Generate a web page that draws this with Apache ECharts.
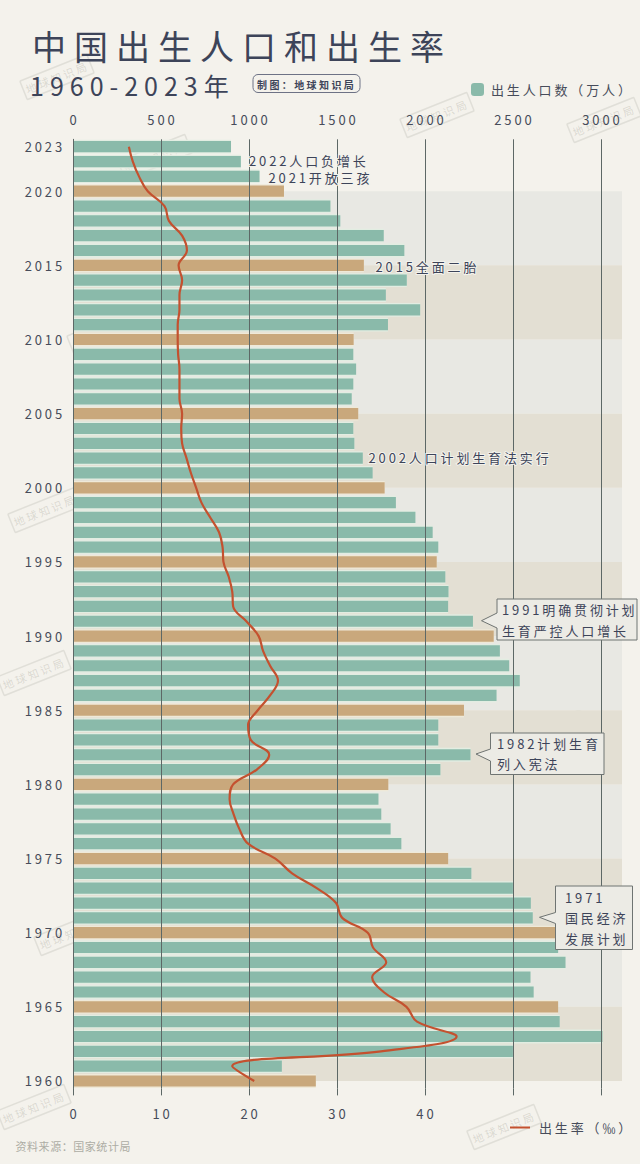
<!DOCTYPE html>
<html><head><meta charset="utf-8">
<style>
html,body{margin:0;padding:0;background:#f4f2ec;}
#c{width:640px;height:1164px;}
#c text{letter-spacing:.22em;}
</style>
<script src="https://cdn.jsdelivr.net/npm/echarts@6/dist/echarts.min.js"></script>
</head><body><div id="c"></div>
<script>
const years=[1960,1961,1962,1963,1964,1965,1966,1967,1968,1969,1970,1971,1972,1973,1974,1975,1976,1977,1978,1979,1980,1981,1982,1983,1984,1985,1986,1987,1988,1989,1990,1991,1992,1993,1994,1995,1996,1997,1998,1999,2000,2001,2002,2003,2004,2005,2006,2007,2008,2009,2010,2011,2012,2013,2014,2015,2016,2017,2018,2019,2020,2021,2022,2023];
const births=[1380,1187,2500,3009,2766,2757,2618,2600,2799,2757,2785,2613,2602,2500,2264,2132,1866,1805,1752,1736,1792,2088,2259,2076,2076,2222,2407,2539,2479,2426,2391,2273,2132,2134,2116,2067,2076,2044,1946,1835,1771,1703,1647,1599,1593,1621,1584,1593,1609,1593,1595,1790,1973,1778,1897,1653,1883,1766,1519,1463,1199,1060,954,898];
const rates=[20.6,18.1,35,43.6,39.1,37.9,35.3,34,35.6,34.1,33.5,30.6,29.9,27.7,24.9,23.0,19.9,18.9,18.25,17.8,18.2,20.9,22.3,20.2,19.9,21.0,22.4,23.3,22.4,21.6,21.1,19.7,18.2,18.1,17.7,17.1,17.0,16.6,15.6,14.6,14.0,13.4,12.9,12.4,12.3,12.4,12.1,12.1,12.1,11.95,11.9,11.9,12.1,12.1,12.4,12.0,12.95,12.4,10.9,10.4,8.5,7.5,6.8,6.35];
const greyBands=[[2020,2015],[2010,2005],[2000,1995],[1990,1985],[1980,1975],[1970,1965]];
const tanBands=[[2015,2010],[2005,2000],[1995,1990],[1985,1980],[1975,1970],[1965,1960]];
const countTicks=[0,500,1000,1500,2000,2500,3000];
const rateLabels=[0,10,20,30,40];
const rateTicks=[0,10,20,30,40,50,60];

const INK='#3d4459', LABEL='#474c5a', FONT='"Noto Sans CJK SC","Noto Sans",sans-serif';
const TEAL='#8abaaa', ORANGE='#c9a87c', RED='#c4512f', RULE='#5d6866';

function txt(s,x,y,font,extra){return {type:'text',z:20,silent:true,style:Object.assign({text:s,x:x,y:y,fill:LABEL,font:font+' '+FONT,textVerticalAlign:'middle',textAlign:'left'},extra||{})};}
const halo={stroke:'#f3f2ec',lineWidth:2};
function callout(pts){return {type:'polygon',z:18,silent:true,shape:{points:pts},style:{fill:'#ecebe5',stroke:'#6f7472',lineWidth:1}};}
function stamp(x,y){return {type:'group',x:x,y:y,rotation:0.38,z:30,silent:true,children:[
  {type:'rect',shape:{x:-36,y:-10,width:72,height:20,r:1},style:{fill:'rgba(0,0,0,0)',stroke:'rgba(125,125,110,.16)',lineWidth:1.5}},
  {type:'text',style:{text:'地球知识局',x:0,y:0,textAlign:'center',textVerticalAlign:'middle',fill:'rgba(110,110,95,.2)',font:'11px '+FONT}}
]};}
const stamps=[[57,77],[437,115],[604,120],[155,157],[384,227],[580,290],[104,332],[318,423],[45,510],[537,522],[228,590],[34,673],[406,722],[122,760],[569,725],[351,827],[551,890],[71,933],[290,1022],[34,1107],[504,1127]];

const graphics=[
 txt('中国出生人口和出生率',32,45.5,'34px',{fill:INK}),
 txt('1960-2023年',30,84.5,'25px',{fill:INK}),
 {type:'rect',z:20,silent:true,shape:{x:253,y:74.5,width:107,height:18,r:5},style:{fill:'none',stroke:'#6d7285',lineWidth:1}},
 txt('制图：地球知识局',257,84,'bold 10px',{fill:INK}),
 txt('2022人口负增长',249,160,'13px',Object.assign({fill:INK},halo)),
 txt('2021开放三孩',268.5,177,'13px',Object.assign({fill:INK},halo)),
 txt('2015全面二胎',375.5,266,'13px',Object.assign({fill:INK},halo)),
 txt('2002人口计划生育法实行',368.5,457.5,'13px',Object.assign({fill:INK},halo)),
 callout([[497,599],[637,599],[637,640],[497,640],[497,628],[481.5,620.7],[497,613]]),
 txt('1991明确贯彻计划',502,609.5,'13px',{fill:INK}),
 txt('生育严控人口增长',502,630.5,'13px',{fill:INK}),
 callout([[490.5,733],[604,733],[604,774.5],[490.5,774.5],[490.5,761],[476,754],[490.5,749]]),
 txt('1982计划生育',497,743,'13px',{fill:INK}),
 txt('列入宪法',497,763.5,'13px',{fill:INK}),
 callout([[555.5,886],[632.5,886],[632.5,949.5],[555.5,949.5],[555.5,923.5],[539.5,917.3],[555.5,912.5]]),
 txt('1971',565,897,'13px',{fill:INK}),
 txt('国民经济',565,917.5,'13px',{fill:INK}),
 txt('发展计划',565,938,'13px',{fill:INK}),
 txt('资料来源：国家统计局',15.5,1146,'11px',{fill:'#adada4'})
].concat(stamps.map(p=>stamp(p[0],p[1])));

const bandData=greyBands.map(b=>({value:b,itemStyle:{color:'#e8e8e3'}})).concat(tanBands.map(b=>({value:b,itemStyle:{color:'#e3dfd3'}})));

const chart=echarts.init(document.getElementById('c'),null,{renderer:'svg',width:640,height:1164});
chart.setOption({
 animation:false,
 backgroundColor:'#f4f2ec',
 textStyle:{fontFamily:FONT},
 grid:{left:73,right:18,top:139.3,height:949.1,containLabel:false},
 legend:[
  {data:['出生人口数（万人）'],left:471,top:83,itemWidth:13,itemHeight:13,itemGap:0,padding:0,itemStyle:{borderWidth:0},textStyle:{fontSize:13,color:LABEL,padding:[0,0,0,2],fontFamily:FONT}},
  {data:[{name:'出生率（‰）',icon:'rect'}],left:510,top:1121,itemWidth:20,itemHeight:2,padding:0,itemStyle:{color:RED},textStyle:{fontSize:13,color:LABEL,padding:[0,0,0,4],fontFamily:FONT}}
 ],
 xAxis:[
  {type:'value',position:'top',min:0,max:3120,interval:500,z:3,
   axisLine:{show:false},axisTick:{show:false},
   axisLabel:{customValues:countTicks,formatter:v=>String(v),color:LABEL,fontSize:13,margin:13,fontFamily:FONT,padding:[0,0,0,3]},
   splitLine:{show:true,showMaxLine:false,lineStyle:{color:RULE,width:1}}},
  {type:'value',position:'bottom',min:0,max:62.4,interval:10,z:3,
   axisLine:{show:false},
   axisTick:{show:true,length:7,customValues:rateTicks,lineStyle:{color:RULE,width:1}},
   axisLabel:{customValues:rateLabels,formatter:v=>String(v),color:LABEL,fontSize:13,margin:19,fontFamily:FONT,padding:[0,0,0,3]},
   splitLine:{show:false}}
 ],
 yAxis:[
  {type:'category',data:years.map(String),z:3,
   axisLine:{show:true,lineStyle:{color:RULE,width:1}},axisTick:{show:false},
   axisLabel:{color:LABEL,fontSize:13,margin:8,fontFamily:FONT,
     interval:(i,v)=>{const y=+v;return y===2023||y%5===0;}}},
  {type:'value',min:1959.5,max:2023.5,show:false,splitLine:{show:false}},
  {type:'category',data:years.map(String),show:false}
 ],
 series:[
  {type:'custom',xAxisIndex:0,yAxisIndex:1,z:1,silent:true,clip:false,
   encode:{y:[0,1]},
   renderItem:(params,api)=>{
     const a=api.coord([0,api.value(0)]), b=api.coord([0,api.value(1)]);
     return {type:'rect',shape:{x:params.coordSys.x,y:a[1],width:params.coordSys.width,height:b[1]-a[1]},style:{fill:api.visual('color')}};
   },
   data:bandData},
  {type:'bar',xAxisIndex:0,yAxisIndex:2,barWidth:13.8,z:1.5,silent:true,
   itemStyle:{color:'#e2ede2'},
   data:births.map((v,i)=>years[i]%5===0?{value:v,itemStyle:{color:'#efe9d8'}}:v)},
  {name:'出生人口数（万人）',type:'bar',xAxisIndex:0,yAxisIndex:0,barWidth:11.2,z:2,
   itemStyle:{color:TEAL},
   data:births.map((v,i)=>years[i]%5===0?{value:v,itemStyle:{color:ORANGE}}:v)},
  {name:'出生率（‰）',type:'line',xAxisIndex:1,yAxisIndex:0,z:4,smooth:0.4,symbol:'none',
   lineStyle:{color:RED,width:2.2},itemStyle:{color:RED},data:rates}
 ],
 graphic:graphics
});
const spacing={'中国出生人口和出生率':'.235em','1960-2023年':'.24em','资料来源：国家统计局':'.05em','制图：地球知识局':'.24em'};
function fix(){document.querySelectorAll('#c text').forEach(t=>{const k=(t.textContent||'').trim();if(spacing[k])t.style.letterSpacing=spacing[k];});}
fix();chart.on('finished',fix);
</script></body></html>
